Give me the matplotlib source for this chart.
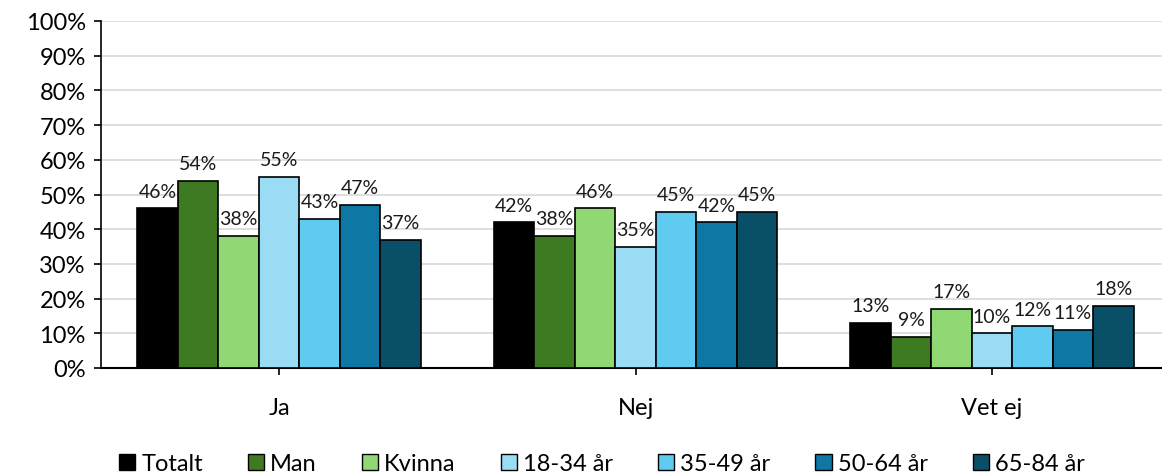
import numpy as np
import matplotlib
matplotlib.use("Agg")
from matplotlib import pyplot as plt
from matplotlib.patches import Patch

plt.rcParams['font.family'] = ['Lato', 'DejaVu Sans']

# 数据
categories = ["Ja", "Nej", "Vet ej"]
series_names = ["Totalt", "Man", "Kvinna", "18-34 år", "35-49 år", "50-64 år", "65-84 år"]
totalt = [46, 42, 13]
man = [54, 38, 9]
kvinna = [38, 46, 17]
age_18_34 = [55, 35, 10]
age_35_49 = [43, 45, 12]
age_50_64 = [47, 42, 11]
age_65_84 = [37, 45, 18]
colors = ["#000000", "#3D7A22", "#8FD873", "#9BDCF5", "#5FCBF1", "#0E77A3", "#0A4F68"]

series = [totalt, man, kvinna, age_18_34, age_35_49, age_50_64, age_65_84]

fig = plt.figure(figsize=(11.62, 4.77), dpi=100)
ax = fig.add_axes([101 / 1162, (477 - 369) / 477, (1162 - 101) / 1162, (369 - 22) / 477])

x = np.arange(len(categories))
width = 0.1136
n = len(series)
for i, (vals, name, c) in enumerate(zip(series, series_names, colors)):
    pos = x + (i - (n - 1) / 2) * width
    ax.bar(pos, vals, width, color=c, edgecolor="black", linewidth=1.2, label=name, zorder=3)
    for p, v in zip(pos, vals):
        ax.text(p, v + 2.5, f"{v}%", ha="center", va="bottom", fontsize=14, color="#1a1a1a")

ax.set_xlim(-0.5, 2.477)
ax.set_ylim(0, 100)
ax.set_yticks(range(0, 101, 10))
ax.set_yticklabels([f"{v}%" for v in range(0, 101, 10)], fontsize=17)
ax.set_xticks(x)
ax.set_xticklabels(categories, fontsize=17)
ax.tick_params(axis="x", length=5, pad=16, width=1.2)
ax.tick_params(axis="y", length=5, pad=6, width=1.2)
ax.grid(axis="y", color="#d9d9d9", linewidth=1.2, zorder=0)
for s in ["top", "right"]:
    ax.spines[s].set_visible(False)
ax.spines["left"].set_linewidth(1.2)
ax.spines["bottom"].set_linewidth(1.5)

handles = [Patch(facecolor=c, edgecolor="black", linewidth=1) for c in colors]
fig.legend(handles, series_names, loc="center", bbox_to_anchor=(0.518, 0.026), ncol=7,
           frameon=False, fontsize=17, handlelength=0.7, handleheight=0.7,
           handletextpad=0.25, columnspacing=1.9)

plt.savefig("out.png", dpi=100)
plt.close()
